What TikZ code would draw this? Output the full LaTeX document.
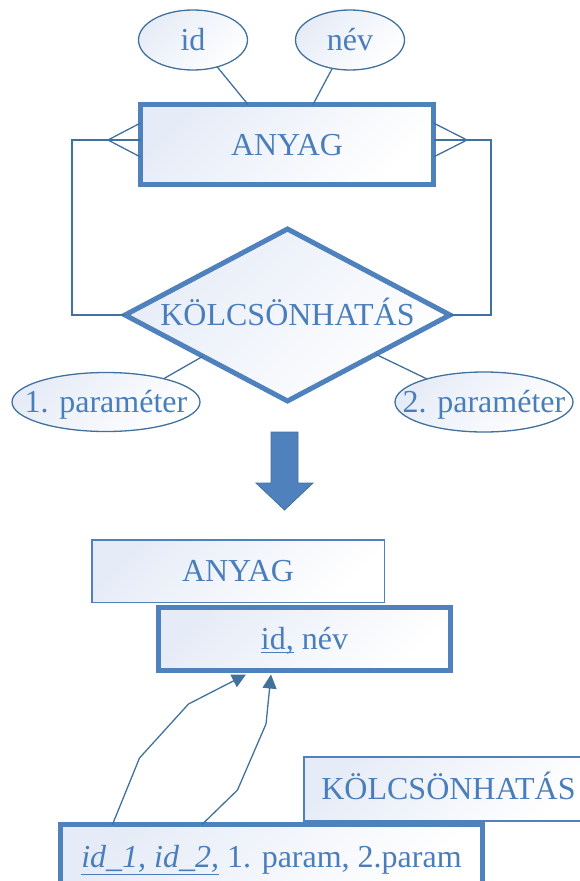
\documentclass[tikz,border=0pt]{standalone}
\usepackage{fontspec}
\setmainfont{Liberation Serif}
\usetikzlibrary{shapes.geometric,arrows.meta,calc}

\definecolor{erblue}{HTML}{4F81BD}
\definecolor{erline}{HTML}{41719C}
\definecolor{ertext}{HTML}{4A7EBB}
\definecolor{ershade}{HTML}{E6ECF7}

% underline drawn as a rule just below the baseline
\newcommand\ulinetext[2][-3.5pt]{\sbox0{#2}\rlap{\rule[#1]{\wd0}{1.3pt}}\usebox0}

\begin{document}
\begin{tikzpicture}[x=1pt,y=-1pt,
  every node/.style={text=ertext, font=\fontsize{32}{38}\selectfont,
    text height=21pt, text depth=0pt, inner sep=0pt, outer sep=0pt},
  gradfill/.style={top color=ershade, bottom color=white, shading angle=45},
  thickbox/.style={rectangle, draw=erblue, line width=5pt, gradfill},
  thinbox/.style={rectangle, draw=erblue, line width=1.5pt, gradfill},
  attr/.style={ellipse, draw=erline, line width=1.3pt, gradfill},
  rel/.style={diamond, aspect=2.2, draw=erblue, line width=5pt, gradfill},
  link/.style={draw=erline, line width=1.3pt},
  fk/.style={link, -{Triangle[width=14pt,length=14pt]}},
]
\useasboundingbox (0,0) rectangle (580,881);
\clip (0,0) rectangle (580,881);

% ---------- ER diagram ----------
\node[thickbox, minimum width=293pt, minimum height=80pt] (anyag) at (287,144.5) {ANYAG};

\node[attr, minimum width=109pt, minimum height=60pt, label={center:id}] (aid) at (193,40) {};
\node[attr, minimum width=109pt, minimum height=60pt, label={center:név}] (anev) at (350,40) {};
\draw[link] (aid.-48) -- ($(anyag.north)+(-39,0)$);
\draw[link] (anev.-122) -- ($(anyag.north)+(26,0)$);

\node[rel, minimum width=325pt, minimum height=172pt] (kolcs) at (287.5,315) {KÖLCSÖNHATÁS};

\node[attr, minimum width=188pt, minimum height=59pt, label={center:1. paraméter}] (p1) at (106,402) {};
\node[attr, minimum width=178pt, minimum height=60pt, label={center:2. paraméter}] (p2) at (484,402) {};
\draw[link] (p1.22) -- (kolcs.-154);
\draw[link] (p2.158) -- (kolcs.-24);

% crow's feet of the recursive relationship
\coordinate (lapex) at (108,140);
\coordinate (lcorner) at (72,140);
\coordinate (rapex) at (467,140);
\coordinate (rcorner) at (491,140);
\draw[link] ($(anyag.west)+(0,-21.5)$) -- (lapex) -- ($(anyag.west)+(0,12.5)$);
\draw[link] (lapex) -- ($(anyag.west)+(0,-4.5)$);
\draw[link] (kolcs.west) -| (lcorner) -- (lapex);
\draw[link] ($(anyag.east)+(0,-21.5)$) -- (rapex) -- ($(anyag.east)+(0,12.5)$);
\draw[link] (rapex) -- ($(anyag.east)+(0,-4.5)$);
\draw[link] (kolcs.east) -| (rcorner) -- (rapex);

% ---------- transformation arrow ----------
\filldraw[fill=erblue, draw=erline, line width=0.8pt]
  (271,432) -- (298,432) -- (298,483) -- (313,483) -- (284.5,510)
  -- (256,483) -- (271,483) -- cycle;

% ---------- relational schema ----------
\node[thinbox, minimum width=292.5pt, minimum height=62.5pt] (anyag2) at (238,571) {ANYAG};
\node[thickbox, minimum width=292pt, minimum height=63pt] (idnev) at (304.5,639) {\ulinetext{id,} név};
\node[thinbox, minimum width=289pt, minimum height=64pt] (kolcs2) at (448.5,788.75) {KÖLCSÖNHATÁS};
\node[thickbox, minimum width=422pt, minimum height=64pt] (idlist) at (271.5,856.5)
  {\ulinetext[-8pt]{\itshape id\_1, id\_2,} 1. param, 2.param};

\coordinate (f1a) at (139.5,758);
\coordinate (f1b) at (188.5,704);
\coordinate (f2a) at (237.5,790);
\coordinate (f2b) at (266,724);
\draw[fk] ($(idlist.north)+(-159,0)$) -- (f1a) -- (f1b) -- ($(idnev.south)+(-58.5,4)$);
\draw[fk] ($(idlist.north)+(-69.5,0)$) -- (f2a) -- (f2b) -- ($(idnev.south)+(-33.5,4)$);
\end{tikzpicture}
\end{document}
